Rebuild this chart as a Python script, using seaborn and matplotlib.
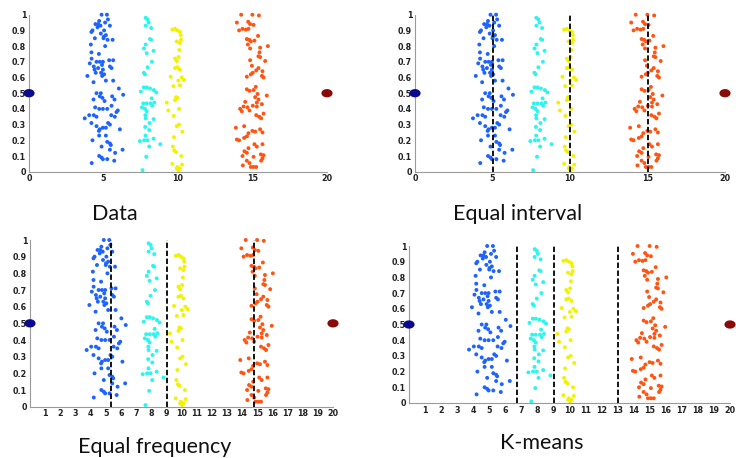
import numpy as np
import pandas as pd
import matplotlib
matplotlib.use('Agg')
import matplotlib.pyplot as plt
import seaborn as sns

# points, per cluster
blue_x = [4.87, 5.23, 4.71, 4.46, 4.64, 5.11, 5.43, 4.80, 4.26, 4.19, 5.04, 4.82, 5.16, 4.42, 5.00,
          5.27, 5.61, 4.15, 5.11, 4.19, 4.69, 4.20, 4.08, 4.53, 4.75, 4.96, 5.38, 5.65, 4.35, 4.64,
          4.96, 5.43, 5.54, 3.92, 4.48, 4.84, 5.04, 4.91, 5.16, 5.65, 4.33, 6.03, 6.32, 4.53, 4.82,
          4.75, 4.93, 4.33, 5.07, 5.74, 5.54, 4.44, 4.71, 4.96, 5.25, 5.96, 5.87, 4.04, 4.35, 4.53,
          5.52, 5.76, 3.74, 4.19, 5.31, 5.43, 4.53, 4.75, 4.96, 5.16, 4.69, 6.10, 4.71, 5.16, 4.26,
          5.25, 5.43, 5.49, 4.87, 5.43, 5.78, 6.28, 4.71, 4.87, 4.96, 5.25, 5.72, 4.21, 4.60, 5.02,
          4.90, 5.30, 4.40, 5.58]
blue_y = [1.00, 1.00, 0.96, 0.94, 0.94, 0.95, 0.93, 0.93, 0.90, 0.89, 0.90, 0.88, 0.87, 0.85, 0.85,
          0.84, 0.84, 0.81, 0.80, 0.76, 0.75, 0.72, 0.69, 0.70, 0.70, 0.70, 0.71, 0.71, 0.67, 0.66,
          0.65, 0.67, 0.66, 0.61, 0.63, 0.63, 0.62, 0.61, 0.58, 0.58, 0.57, 0.53, 0.49, 0.50, 0.50,
          0.48, 0.47, 0.46, 0.45, 0.46, 0.42, 0.41, 0.40, 0.40, 0.40, 0.39, 0.38, 0.36, 0.36, 0.35,
          0.36, 0.35, 0.34, 0.31, 0.31, 0.30, 0.29, 0.27, 0.28, 0.28, 0.26, 0.27, 0.23, 0.23, 0.20,
          0.19, 0.18, 0.17, 0.16, 0.14, 0.12, 0.14, 0.10, 0.09, 0.08, 0.08, 0.07, 0.055, 0.92, 0.86,
          0.68, 0.97, 0.65, 0.48]

cyan_x = [7.83, 7.96, 8.03, 7.83, 8.20, 8.12, 8.20, 7.83, 7.71, 8.36, 7.90, 8.25, 7.96, 7.71, 7.78,
          7.51, 7.71, 7.90, 8.12, 8.38, 8.54, 8.23, 7.67, 7.90, 8.16, 8.41, 7.58, 7.78, 8.27, 7.90,
          7.81, 7.83, 8.36, 8.09, 7.80, 8.07, 7.82, 7.44, 7.73, 7.96, 8.36, 8.81, 8.07, 7.87, 7.62]
cyan_y = [0.98, 0.97, 0.95, 0.93, 0.915, 0.845, 0.84, 0.81, 0.785, 0.77, 0.755, 0.70, 0.665, 0.63, 0.62,
          0.51, 0.537, 0.537, 0.53, 0.52, 0.505, 0.467, 0.435, 0.435, 0.435, 0.44, 0.41, 0.40, 0.42, 0.385,
          0.36, 0.34, 0.335, 0.31, 0.285, 0.265, 0.23, 0.195, 0.20, 0.20, 0.21, 0.175, 0.16, 0.095, 0.01]

yellow_x = [9.62, 9.80, 9.96, 10.13, 10.18, 9.91, 10.13, 10.20, 10.09, 9.80, 9.91, 10.04, 9.80, 9.96,
            10.13, 9.51, 10.25, 10.40, 10.02, 10.13, 9.69, 9.87, 9.96, 9.80, 9.24, 9.35, 10.07, 9.71,
            9.91, 10.07, 10.29, 9.73, 9.66, 9.75, 9.87, 10.22, 9.62, 10.27, 9.91, 10.04, 10.13, 9.96]
yellow_y = [0.905, 0.91, 0.90, 0.89, 0.87, 0.83, 0.82, 0.84, 0.775, 0.72, 0.705, 0.73, 0.66, 0.665,
            0.65, 0.605, 0.60, 0.585, 0.58, 0.55, 0.545, 0.475, 0.47, 0.455, 0.44, 0.39, 0.40, 0.355,
            0.29, 0.30, 0.255, 0.22, 0.16, 0.135, 0.125, 0.10, 0.05, 0.045, 0.02, 0.01, 0.02, 0.03]

orange_x = [14.24, 14.99, 15.43, 13.95, 14.71, 14.84, 15.07, 14.73, 14.10, 14.33, 14.55, 15.37, 14.62,
            14.78, 14.89, 15.13, 14.69, 16.03, 14.84, 15.51, 15.47, 14.84, 15.40, 15.51, 15.85, 14.96,
            15.25, 15.40, 15.67, 15.02, 14.89, 15.63, 15.74, 14.62, 15.22, 14.62, 14.80, 15.07, 15.34,
            15.96, 15.18, 15.40, 14.51, 15.29, 15.63, 15.02, 14.40, 14.66, 15.29, 14.17, 14.28, 14.80,
            15.74, 15.25, 15.45, 15.58, 13.88, 14.44, 15.51, 14.99, 15.18, 15.67, 14.73, 14.62, 13.95,
            14.10, 14.44, 15.13, 15.67, 15.29, 14.73, 14.46, 14.62, 15.56, 15.74, 14.33, 15.07, 15.67,
            14.62, 14.80, 15.58, 14.35, 14.89, 15.07, 15.25]
orange_y = [1.00, 1.00, 0.995, 0.95, 0.955, 0.94, 0.935, 0.91, 0.90, 0.91, 0.905, 0.865, 0.845,
            0.84, 0.83, 0.835, 0.81, 0.80, 0.785, 0.79, 0.76, 0.71, 0.735, 0.73, 0.705, 0.675,
            0.645, 0.66, 0.64, 0.63, 0.62, 0.61, 0.60, 0.605, 0.54, 0.525, 0.515, 0.52, 0.495,
            0.485, 0.475, 0.46, 0.445, 0.44, 0.43, 0.42, 0.415, 0.41, 0.415, 0.40, 0.385, 0.39,
            0.37, 0.36, 0.35, 0.34, 0.28, 0.29, 0.27, 0.26, 0.255, 0.25, 0.245, 0.225, 0.205,
            0.20, 0.215, 0.175, 0.175, 0.16, 0.15, 0.13, 0.12, 0.11, 0.105, 0.10, 0.095, 0.085,
            0.07, 0.055, 0.07, 0.04, 0.03, 0.03, 0.03]

outlier_x = [0, 20]
outlier_y = [0.5, 0.5]

# bin edges per method
equal_interval_cuts = [5, 10, 15]
equal_frequency_cuts = [5.34, 9.05, 14.77]
kmeans_cuts = [6.76, 9.04, 13.03]

titles = ['Data', 'Equal interval', 'Equal frequency', 'K-means']

points = pd.concat([
    pd.DataFrame({'x': blue_x, 'y': blue_y, 'group': 'blue'}),
    pd.DataFrame({'x': cyan_x, 'y': cyan_y, 'group': 'cyan'}),
    pd.DataFrame({'x': yellow_x, 'y': yellow_y, 'group': 'yellow'}),
    pd.DataFrame({'x': orange_x, 'y': orange_y, 'group': 'orange'}),
], ignore_index=True)
outliers = pd.DataFrame({'x': outlier_x, 'y': outlier_y, 'group': ['low', 'high']})

palette = {'blue': '#1f63ff', 'cyan': '#2af5ee', 'yellow': '#f2f200', 'orange': '#ff5412',
           'low': '#0a0a8c', 'high': '#8a0a0a'}

sns.set_style('white')

W, H = 736, 458
fig = plt.figure(figsize=(W / 100, H / 100), dpi=100)

# axes boxes in pixels: left, right, top, bottom
boxes = [(29, 327, 14.7, 171.7), (415, 725, 14.7, 171.7),
         (30, 333, 240, 406.7), (409, 730, 246, 403)]
cuts = [None, equal_interval_cuts, equal_frequency_cuts, kmeans_cuts]
title_pos = [(115, 214), (518, 214), (155, 447), (542, 443)]

t = np.linspace(0, 2 * np.pi, 30)
ellipse = np.column_stack([1.35 * np.cos(t), np.sin(t)])

for i, (l, r, tp, b) in enumerate(boxes):
    ax = fig.add_axes([l / W, 1 - b / H, (r - l) / W, (b - tp) / H])
    sns.scatterplot(data=points, x='x', y='y', hue='group', palette=palette, s=8,
                    linewidth=0, legend=False, clip_on=False, ax=ax)
    sns.scatterplot(data=outliers, x='x', y='y', hue='group', palette=palette, s=65,
                    marker=ellipse, linewidth=0, legend=False, clip_on=False, ax=ax, zorder=3)
    if cuts[i] is not None:
        for c in cuts[i]:
            ax.plot([c, c], [0, 1], color='black', lw=1.3, linestyle=(0, (3, 1.4)), zorder=4)
    ax.set_xlim(0, 20)
    ax.set_ylim(0, 1)
    ax.set_yticks(np.arange(0, 1.01, 0.1))
    ax.set_yticklabels(['0', '0.1', '0.2', '0.3', '0.4', '0.5', '0.6', '0.7', '0.8', '0.9', '1'])
    if i < 2:
        ax.set_xticks([0, 5, 10, 15, 20])
    else:
        ax.set_xticks(range(1, 21))
    ax.set_xlabel('')
    ax.set_ylabel('')
    for side in ['top', 'right']:
        ax.spines[side].set_visible(False)
    for side in ['left', 'bottom']:
        ax.spines[side].set_color('#9a9a9a')
        ax.spines[side].set_linewidth(0.8)
    ax.tick_params(direction='in', length=2, width=0.6, color='#9a9a9a', pad=2,
                   labelsize=5.8, labelcolor='#222222')
    for lab in ax.get_xticklabels() + ax.get_yticklabels():
        lab.set_fontweight('bold')
    ax.patch.set_alpha(0)
    fig.text(title_pos[i][0] / W, 1 - title_pos[i][1] / H, titles[i], ha='center', va='center',
             fontsize=15.5, family=['Lato', 'DejaVu Sans'], color='#111111')

fig.savefig('out.png', dpi=100)
